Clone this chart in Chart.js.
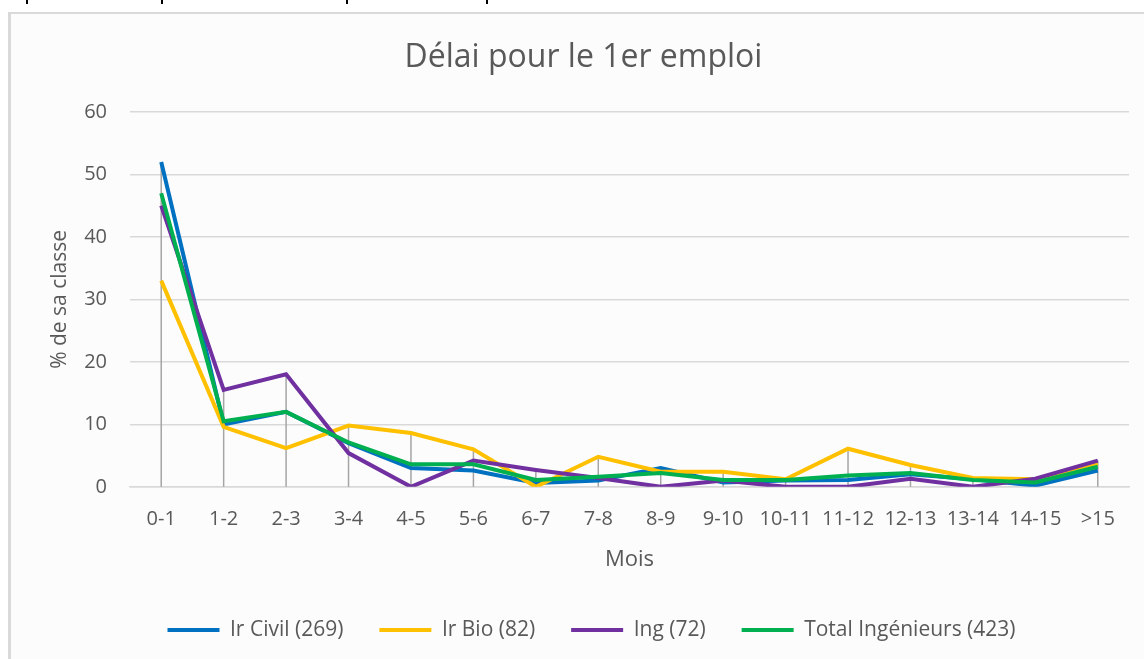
<!DOCTYPE html>
<html>
<head>
<meta charset="utf-8">
<script src="https://cdn.jsdelivr.net/npm/chart.js@4/dist/chart.umd.min.js"></script>
<style>
  html, body { margin: 0; padding: 0; background: #fff; width: 1144px; height: 659px; overflow: hidden; }
  .frame { position: absolute; left: 8px; top: 12px; width: 1200px; height: 700px; background: #fcfcfc; border-left: 3px solid #d9d9d9; border-top: 2px solid #d9d9d9; }
  .mark { position: absolute; top: 0; width: 2px; height: 4px; background: #000; }
  #chart { position: absolute; left: 0; top: 0; }
</style>
</head>
<body>
<div class="mark" style="left:26px"></div>
<div class="mark" style="left:161px"></div>
<div class="mark" style="left:346px"></div>
<div class="mark" style="left:486px"></div>
<div class="frame"></div>
<canvas id="chart" width="1144" height="659"></canvas>
<script>
const categories = ['0-1', '1-2', '2-3', '3-4', '4-5', '5-6', '6-7', '7-8', '8-9', '9-10', '10-11', '11-12', '12-13', '13-14', '14-15', '>15'];
const irCivil = [52, 10, 12, 7, 3, 2.6, 0.6, 1, 3, 0.7, 1, 1.1, 2, 1.2, 0.2, 2.6];
const irBio = [33, 9.6, 6.2, 9.8, 8.6, 6, 0, 4.8, 2.4, 2.4, 1.2, 6.1, 3.5, 1.4, 1.2, 3.7];
const ing = [45, 15.5, 18, 5.4, 0, 4.2, 2.7, 1.4, 0, 1, 0, 0, 1.3, 0, 1.3, 4.2];
const totalIng = [47, 10.5, 12, 7.1, 3.6, 3.6, 1.1, 1.6, 2.2, 1.1, 1.1, 1.8, 2.2, 1.1, 0.7, 3.2];
const yTicks = [0, 10, 20, 30, 40, 50, 60];

const FONT = "'Open Sans', 'DejaVu Sans', sans-serif";
const TEXT = '#595959';

// vertical drop lines from the highest series down to the axis
const dropLines = {
  id: 'dropLines',
  beforeDatasetsDraw(chart) {
    const { ctx, scales: { x, y } } = chart;
    ctx.save();
    ctx.strokeStyle = '#a5a5a5';
    ctx.lineWidth = 1.5;
    categories.forEach((c, i) => {
      const top = Math.max(...chart.data.datasets.map(d => d.data[i]));
      const px = x.getPixelForValue(i);
      ctx.beginPath();
      ctx.moveTo(px, y.getPixelForValue(top));
      ctx.lineTo(px, y.getPixelForValue(0));
      ctx.stroke();
    });
    ctx.restore();
  }
};

// nudge title and legend to the right, like the original
const shiftBoxes = {
  id: 'shiftBoxes',
  afterLayout(chart) {
    if (chart.legend) { chart.legend.left += 27; chart.legend.right += 27; }
    if (chart.titleBlock) { chart.titleBlock.left += 19; chart.titleBlock.right += 19; }
  }
};

const line = (label, data, color, order) => ({
  label, data, order,
  borderColor: color, backgroundColor: color,
  borderWidth: 4, pointRadius: 0, tension: 0, fill: false
});

new Chart(document.getElementById('chart').getContext('2d'), {
  type: 'line',
  data: {
    labels: categories,
    datasets: [
      line('Ir Civil (269)', irCivil, '#0070c0', 3),
      line('Ir Bio (82)', irBio, '#ffc000', 2),
      line('Ing (72)', ing, '#7030a0', 1),
      line('Total Ingénieurs (423)', totalIng, '#00b050', 0)
    ]
  },
  options: {
    responsive: false,
    animation: false,
    layout: { padding: { left: 0, right: 15, top: 0, bottom: 8.5 } },
    plugins: {
      tooltip: { enabled: false },
      title: {
        display: true,
        text: 'Délai pour le 1er emploi',
        color: TEXT,
        font: { family: FONT, size: 32, weight: 'normal' },
        padding: { top: 38.8, bottom: 34.8 }
      },
      legend: {
        position: 'bottom',
        labels: {
          color: TEXT,
          font: { family: FONT, size: 21 },
          boxWidth: 52,
          boxHeight: 4,
          padding: 36,
          sort: (a, b) => a.datasetIndex - b.datasetIndex,
          generateLabels(chart) {
            return Chart.defaults.plugins.legend.labels.generateLabels(chart).map(l => {
              l.lineWidth = 0;
              l.fillStyle = chart.data.datasets[l.datasetIndex].borderColor;
              return l;
            });
          }
        }
      }
    },
    scales: {
      x: {
        offset: true,
        grid: { display: false, drawTicks: false },
        border: { display: true, color: '#d9d9d9', width: 1.5 },
        ticks: { color: TEXT, font: { family: FONT, size: 20 }, padding: 20, maxRotation: 0, autoSkip: false },
        title: { display: true, text: 'Mois', color: TEXT, font: { family: FONT, size: 22 }, padding: { top: -4, bottom: 10.3 } }
      },
      y: {
        min: 0,
        max: 60,
        afterFit(scale) { scale.width = 130; },
        afterBuildTicks(scale) { scale.ticks = yTicks.map(v => ({ value: v })); },
        grid: { color: '#d9d9d9', lineWidth: 1.5, drawTicks: false },
        border: { display: false },
        ticks: { color: TEXT, font: { family: FONT, size: 20 }, padding: 23 },
        title: { display: true, text: '% de sa classe', color: TEXT, font: { family: FONT, size: 21 }, padding: { top: 47.4, bottom: 0 } }
      }
    }
  },
  plugins: [dropLines, shiftBoxes]
});
</script>
</body>
</html>
